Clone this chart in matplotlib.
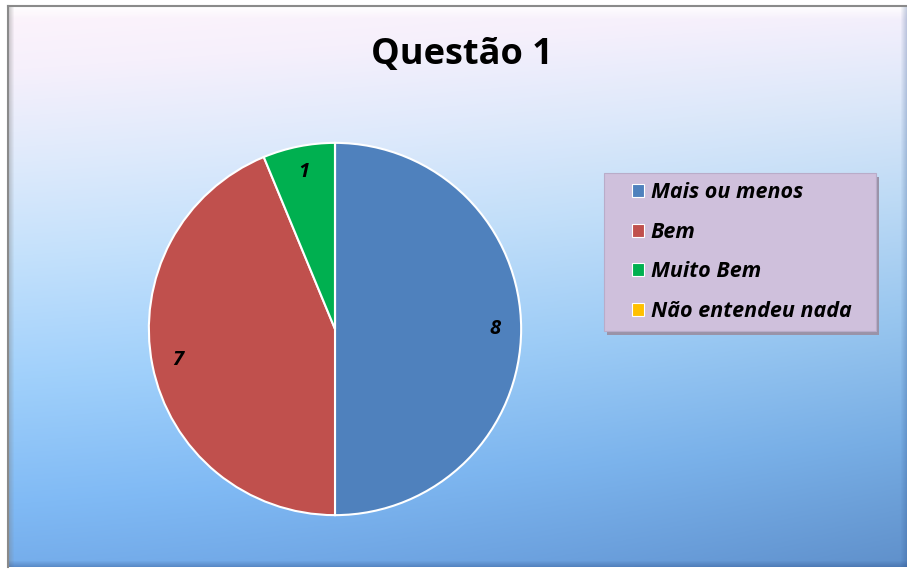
import numpy as np
import matplotlib
matplotlib.use("Agg")
import matplotlib.pyplot as plt
from matplotlib.patches import Rectangle

# ---- data ----
categories = ["Mais ou menos", "Bem", "Muito Bem", "Não entendeu nada"]
values = [8, 7, 1, 0]
colors = ["#4F81BD", "#C0504D", "#00B050", "#FFC000"]
title = "Questão 1"

W, H = 907, 569
fig = plt.figure(figsize=(W / 100, H / 100), dpi=100)
fig.patch.set_facecolor("white")

def fx(px):
    return px / W

def fy(py):
    return 1 - py / H

FONT = "Open Sans"

# ---- background frame with gradient ----
x0, x1, y0, y1 = 9, 907, 7, 567
bg = fig.add_axes([fx(x0), fy(y1), fx(x1 - x0), (y1 - y0) / H], zorder=0)
bg.set_axis_off()
ny, nx = 300, 300
yy = np.linspace(0, 1, ny)[:, None]
xx = np.linspace(0, 1, nx)[None, :]
stops_t = [0.0, 0.1, 0.25, 0.4, 0.6, 0.8, 1.0]
stops_c = np.array([
    [253, 244, 252],
    [246, 240, 252],
    [222, 234, 252],
    [196, 225, 252],
    [160, 208, 251],
    [128, 186, 245],
    [106, 160, 225],
]) / 255.0
t = (yy * 0.9 + xx * 0.1) * np.ones((ny, nx))
img = np.zeros((ny, nx, 3))
for c in range(3):
    img[..., c] = np.interp(t, stops_t, stops_c[:, c])
shade = 1 - 0.10 * (xx ** 2) * (yy ** 1.2)
img = img * shade[..., None]
bg.imshow(img, extent=[0, 1, 0, 1], aspect="auto", origin="upper")
bg.set_xlim(0, 1)
bg.set_ylim(0, 1)
# bevel effects
bw = 12 / (y1 - y0)
for i in range(12):
    a = 0.85 * (1 - i / 12)
    bg.add_patch(Rectangle((0, 1 - (i + 1) * bw / 12), 1, bw / 12,
                           color="white", alpha=a, lw=0))
lw_ = 5 / (x1 - x0)
for i in range(5):
    bg.add_patch(Rectangle((i * lw_ / 5, 0), lw_ / 5, 1, color="#7f7f7f",
                           alpha=0.35 * (1 - i / 5), lw=0))
bh = 6 / (y1 - y0)
for i in range(6):
    bg.add_patch(Rectangle((0, i * bh / 6), 1, bh / 6, color="#2a4f8a",
                           alpha=0.35 * (1 - i / 6), lw=0))
rw = 6 / (x1 - x0)
for i in range(6):
    bg.add_patch(Rectangle((1 - (i + 1) * rw / 6, 0), rw / 6, 1, color="#2a4f8a",
                           alpha=0.25 * (1 - i / 6), lw=0))
# outer border lines
fig.add_artist(plt.Line2D([fx(8), fx(8)], [fy(6), fy(567)], color="#8a8a8a", lw=1.5))
fig.add_artist(plt.Line2D([fx(8), fx(907)], [fy(6), fy(6)], color="#8a8a8a", lw=1.5))

# ---- title ----
fig.text(fx(462), fy(55), title, ha="center", va="center", fontsize=26,
         fontweight="bold", family=FONT, color="black")

# ---- pie ----
cx, cy, r = 335, 329, 188
ax = fig.add_axes([fx(cx - r), fy(cy + r), 2 * r / W, 2 * r / H], zorder=2)
ax.set_axis_off()

def fmt(p):
    v = int(round(p * sum(values) / 100.0))
    return str(v) if v > 0 else ""

wedges, texts, autotexts = ax.pie(
    values, colors=colors, startangle=90, counterclock=False,
    autopct=fmt, pctdistance=0.86,
    wedgeprops=dict(edgecolor="white", linewidth=1.5),
    textprops=dict(fontsize=14.5, fontweight="bold", fontstyle="italic",
                   family=FONT, color="black"))
ax.set_xlim(-1.01, 1.01)
ax.set_ylim(-1.01, 1.01)
ax.set_aspect("equal")

# ---- legend ----
lx0, ly0, lx1, ly1 = 604, 173, 876, 331
fig.add_artist(Rectangle((fx(lx0 + 3), fy(ly1 + 4)), fx(lx1 - lx0), (ly1 - ly0) / H,
                         transform=fig.transFigure, facecolor="#9a93a8",
                         edgecolor="none", zorder=3))
fig.add_artist(Rectangle((fx(lx0), fy(ly1)), fx(lx1 - lx0), (ly1 - ly0) / H,
                         transform=fig.transFigure, facecolor="#CFC0DC",
                         edgecolor="#b9acc9", lw=0.8, zorder=3))
leg = fig.legend(wedges, categories, loc="upper left",
                 bbox_to_anchor=(fx(632), fy(182)), frameon=False,
                 prop=dict(size=15.5, weight="bold", style="italic", family=FONT),
                 handlelength=0.56, handleheight=0.56, handletextpad=0.3,
                 labelspacing=0.87, borderpad=0, borderaxespad=0)
leg.set_zorder(4)
for h in leg.legend_handles:
    h.set_edgecolor("white")
    h.set_linewidth(0.8)

fig.savefig("out.png", dpi=100)
